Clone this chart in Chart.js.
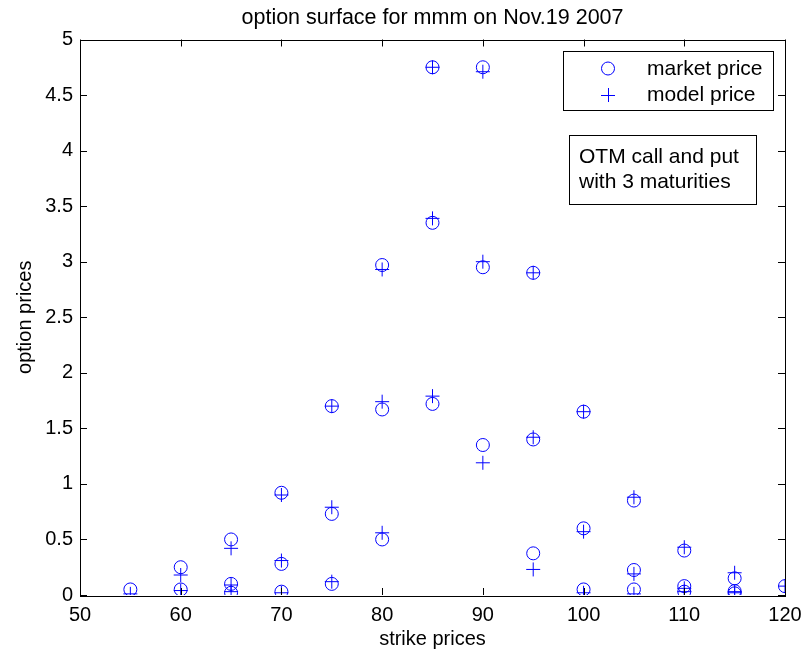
<!DOCTYPE html>
<html>
<head>
<meta charset="utf-8">
<script src="https://cdn.jsdelivr.net/npm/chart.js@4"></script>
<style>
html,body{margin:0;padding:0;background:#fff;}
canvas{display:block;}
</style>
</head>
<body>
<canvas id="c" width="806" height="657"></canvas>
<script>
// strike prices for each quoted option (3 maturities, OTM calls and puts)
const strikes = [55, 60, 60, 65, 65, 65, 70, 70, 70, 75, 75, 75, 80, 80, 80, 85, 85, 85, 90, 90, 90, 95, 95, 95, 100, 100, 100, 105, 105, 105, 110, 110, 110, 115, 115, 115, 120];
const marketPrice = [0.05, 0.25, 0.05, 0.50, 0.10, 0.02, 0.92, 0.28, 0.03, 1.70, 0.73, 0.10, 2.97, 1.67, 0.50, 4.75, 3.35, 1.72, 4.75, 2.95, 1.35, 2.90, 1.40, 0.375, 1.65, 0.60, 0.05, 0.85, 0.225, 0.05, 0.40, 0.08, 0.03, 0.15, 0.035, 0.015, 0.08];
const modelPrice = [0.01, 0.18, 0.04, 0.42, 0.09, 0.03, 0.90, 0.31, 0.02, 1.70, 0.79, 0.12, 2.93, 1.74, 0.56, 4.75, 3.39, 1.79, 4.71, 3.00, 1.19, 2.90, 1.42, 0.23, 1.65, 0.57, 0.02, 0.88, 0.19, 0.01, 0.43, 0.06, 0.03, 0.20, 0.03, 0.02, 0.08];
const xTicks = [50, 60, 70, 80, 90, 100, 110, 120];
const yTicks = [0, 0.5, 1, 1.5, 2, 2.5, 3, 3.5, 4, 4.5, 5];
const titleText = 'option surface for mmm on Nov.19 2007';
const xLabel = 'strike prices';
const yLabel = 'option prices';
const legendLabels = ['market price', 'model price'];
const noteLines = ['OTM call and put', 'with 3 maturities'];

const FONT = '"Liberation Sans", Arial, Helvetica, sans-serif';
const BLUE = '#0000ff';

const decor = {
  id: 'decor',
  afterDraw(chart) {
    const ctx = chart.ctx;
    const a = chart.chartArea;
    const xs = chart.scales.x, ys = chart.scales.y;
    ctx.save();
    ctx.strokeStyle = '#000';
    ctx.lineWidth = 1;
    // box
    ctx.strokeRect(Math.round(a.left) + 0.5, Math.round(a.top) + 0.5, Math.round(a.right - a.left), Math.round(a.bottom - a.top));
    // inward ticks
    const tl = 7;
    ctx.beginPath();
    xTicks.forEach(v => {
      const px = Math.round(xs.getPixelForValue(v)) + 0.5;
      ctx.moveTo(px, a.bottom); ctx.lineTo(px, a.bottom - tl);
      ctx.moveTo(px, a.top); ctx.lineTo(px, a.top + tl);
    });
    yTicks.forEach(v => {
      const py = Math.round(ys.getPixelForValue(v)) + 0.5;
      ctx.moveTo(a.left, py); ctx.lineTo(a.left + tl, py);
      ctx.moveTo(a.right, py); ctx.lineTo(a.right - tl, py);
    });
    ctx.stroke();

    ctx.fillStyle = '#000';
    ctx.textBaseline = 'alphabetic';
    ctx.textAlign = 'center';
    // title
    ctx.font = '21.5px ' + FONT;
    ctx.fillText(titleText, (a.left + a.right) / 2, 24);
    // x label
    ctx.font = '20px ' + FONT;
    ctx.fillText(xLabel, (a.left + a.right) / 2, 645);
    // y label
    ctx.save();
    ctx.translate(31, (a.top + a.bottom) / 2);
    ctx.rotate(-Math.PI / 2);
    ctx.fillText(yLabel, 0, 0);
    ctx.restore();

    // legend box
    ctx.fillStyle = '#fff';
    ctx.fillRect(563.5, 51.5, 210, 59);
    ctx.strokeRect(563.5, 51.5, 210, 59);
    ctx.strokeStyle = BLUE;
    ctx.beginPath();
    ctx.arc(608, 68.5, 6.5, 0, Math.PI * 2);
    ctx.stroke();
    ctx.beginPath();
    ctx.moveTo(601, 95.5); ctx.lineTo(615, 95.5);
    ctx.moveTo(608.5, 88); ctx.lineTo(608.5, 102);
    ctx.stroke();
    ctx.fillStyle = '#000';
    ctx.font = '21px ' + FONT;
    ctx.textAlign = 'left';
    ctx.textBaseline = 'middle';
    ctx.fillText(legendLabels[0], 647, 69);
    ctx.fillText(legendLabels[1], 647, 95);

    // note box
    ctx.strokeStyle = '#000';
    ctx.fillStyle = '#fff';
    ctx.fillRect(569.5, 135.5, 187, 69);
    ctx.strokeRect(569.5, 135.5, 187, 69);
    ctx.fillStyle = '#000';
    ctx.fillText(noteLines[0], 579, 157);
    ctx.fillText(noteLines[1], 579, 182);
    ctx.restore();
  }
};

const pts = (ys) => strikes.map((x, i) => ({x: x, y: ys[i]}));

new Chart(document.getElementById('c'), {
  type: 'scatter',
  data: {
    datasets: [
      {label: legendLabels[0], data: pts(marketPrice), pointStyle: 'circle', pointRadius: 6.5, pointHoverRadius: 6.5,
       borderColor: BLUE, backgroundColor: 'rgba(0,0,0,0)', borderWidth: 1},
      {label: legendLabels[1], data: pts(modelPrice), pointStyle: 'cross', pointRadius: 7, pointHoverRadius: 7,
       borderColor: BLUE, backgroundColor: BLUE, borderWidth: 1}
    ]
  },
  options: {
    responsive: false,
    animation: false,
    devicePixelRatio: 1,
    layout: {padding: {top: 39.5, right: 21, left: 0, bottom: 0}},
    plugins: {legend: {display: false}, title: {display: false}, tooltip: {enabled: false}},
    scales: {
      x: {
        type: 'linear', min: 50, max: 120,
        afterBuildTicks: s => { s.ticks = xTicks.map(v => ({value: v})); },
        afterFit: s => { s.height = 62; s.paddingLeft = 0; s.paddingRight = 0; },
        grid: {display: false, drawTicks: false},
        border: {display: false},
        ticks: {color: '#000', font: {family: FONT, size: 20}, padding: 8, maxRotation: 0, autoSkip: false,
                callback: v => String(v)}
      },
      y: {
        type: 'linear', min: 0, max: 5,
        afterBuildTicks: s => { s.ticks = yTicks.map(v => ({value: v})); },
        afterFit: s => { s.width = 80; s.paddingTop = 0; s.paddingBottom = 0; },
        grid: {display: false, drawTicks: false},
        border: {display: false},
        ticks: {color: '#000', font: {family: FONT, size: 20}, padding: 7, autoSkip: false,
                callback: v => String(v)}
      }
    }
  },
  plugins: [decor]
});
</script>
</body>
</html>
